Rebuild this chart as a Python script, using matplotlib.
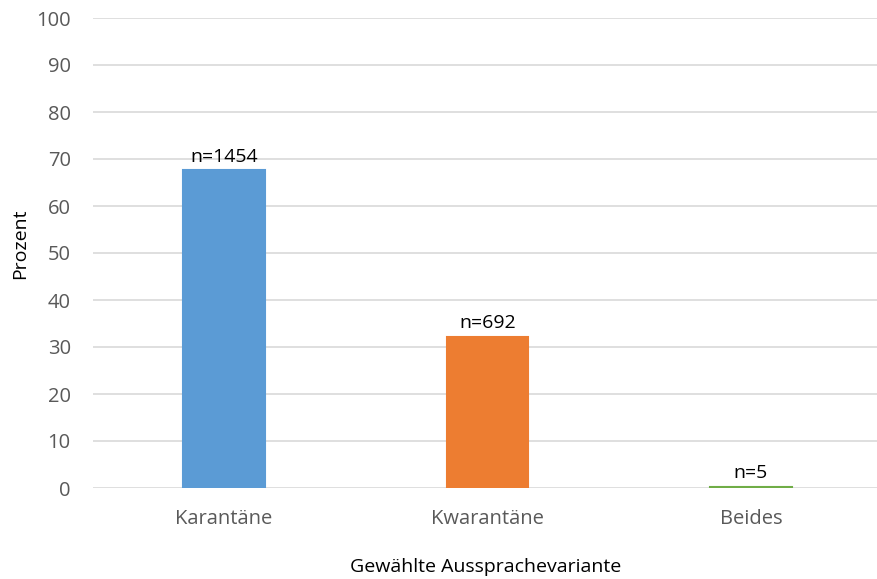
import matplotlib
matplotlib.use("Agg")
import matplotlib.pyplot as plt
import numpy as np

categories = ["Karantäne", "Kwarantäne", "Beides"]
counts = [1454, 692, 5]
colors = ["#5B9BD5", "#ED7D31", "#70AD47"]

total = sum(counts)
percent = [c / total * 100 for c in counts]

plt.rcParams['font.family'] = ['Open Sans', 'DejaVu Sans']

fig = plt.figure(figsize=(8.78, 5.79), dpi=100)
ax = fig.add_axes([93 / 878, 1 - 488 / 579, 1 - 93 / 878, 470 / 579])
ax.set_axisbelow(True)

x = np.arange(len(categories))
ax.bar(x, percent, width=0.31, color=colors, edgecolor=colors, linewidth=1.5, zorder=3)

for xi, p, n in zip(x, percent, counts):
    ax.text(xi, p + 1.0, "n=%d" % n, ha="center", va="bottom", fontsize=14, color="black")

ax.set_xlim(-0.497, 2.482)
ax.set_ylim(0, 100)
ax.set_yticks(np.arange(0, 101, 10))
ax.set_xticks(x)
ax.set_xticklabels(categories)
ax.tick_params(axis="both", length=0, labelsize=14.5, colors="#595959")
ax.tick_params(axis="y", pad=16)
ax.tick_params(axis="x", pad=15)
ax.grid(axis="y", color="#D9D9D9", linewidth=1.2)
for s in ax.spines.values():
    s.set_visible(False)

ax.set_ylabel("Prozent", fontsize=14, color="black", labelpad=12)
ax.yaxis.set_label_coords(-0.082, 0.52)
ax.set_xlabel("Gewählte Aussprachevariante", fontsize=14, color="black", labelpad=21)

fig.savefig("out.png", dpi=100)
